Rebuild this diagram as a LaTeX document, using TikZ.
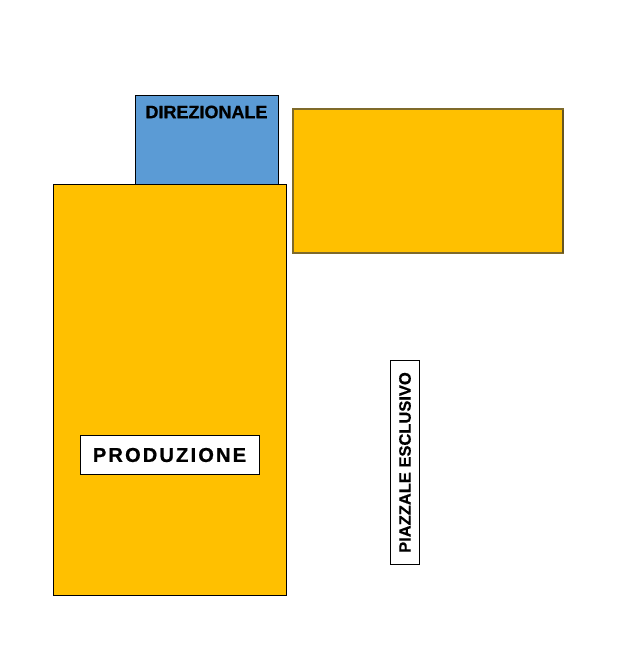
\documentclass[tikz,border=0pt]{standalone}
\usepackage{fontspec}
\setmainfont{Liberation Sans}
\definecolor{gold}{HTML}{FFC000}
\definecolor{bluedir}{HTML}{5B9BD5}
\definecolor{olive}{HTML}{7F6A2A}
\begin{document}
\begin{tikzpicture}[x=1pt,y=-1pt,
  area/.style={draw=black,line width=0.8pt},
  labelbox/.style={draw=black,fill=white,line width=0.8pt},
  lbl/.style={font=\bfseries,text=black,inner sep=0pt}]
\useasboundingbox (0,0) rectangle (625,659);
% blue block
\fill[bluedir] (135,95) rectangle (278,184);
\draw[area] (135,95) rectangle (278,184);
\node[lbl,font=\fontsize{18}{20}\selectfont\bfseries\addfontfeatures{FakeBold=0.6}] (dir) at (206.5,112) {DIREZIONALE};
% right yellow block
\fill[gold] (293,109) rectangle (563,253);
\draw[draw=olive,line width=1.2pt] (293,109) rectangle (563,253);
\draw[draw=olive!80!black,line width=1.5pt] (563,110) -- (563,253);
% main yellow block
\fill[gold] (53,184) rectangle (286,595);
\draw[area] (53,184) rectangle (286,595);
% produzione
\draw[labelbox] (80,435) rectangle (259,474);
\node[lbl,font=\fontsize{20}{22}\selectfont\bfseries\addfontfeatures{LetterSpace=11,FakeBold=0.8}] (prod) at (169.5,455) {PRODUZIONE};
% piazzale
\draw[labelbox] (390,360) rectangle (419,564);
\node[lbl,rotate=90,font=\fontsize{16.5}{19}\selectfont\bfseries\addfontfeatures{FakeBold=0.5}] (piaz) at (405,462.5) {PIAZZALE ESCLUSIVO};
\end{tikzpicture}
\end{document}
